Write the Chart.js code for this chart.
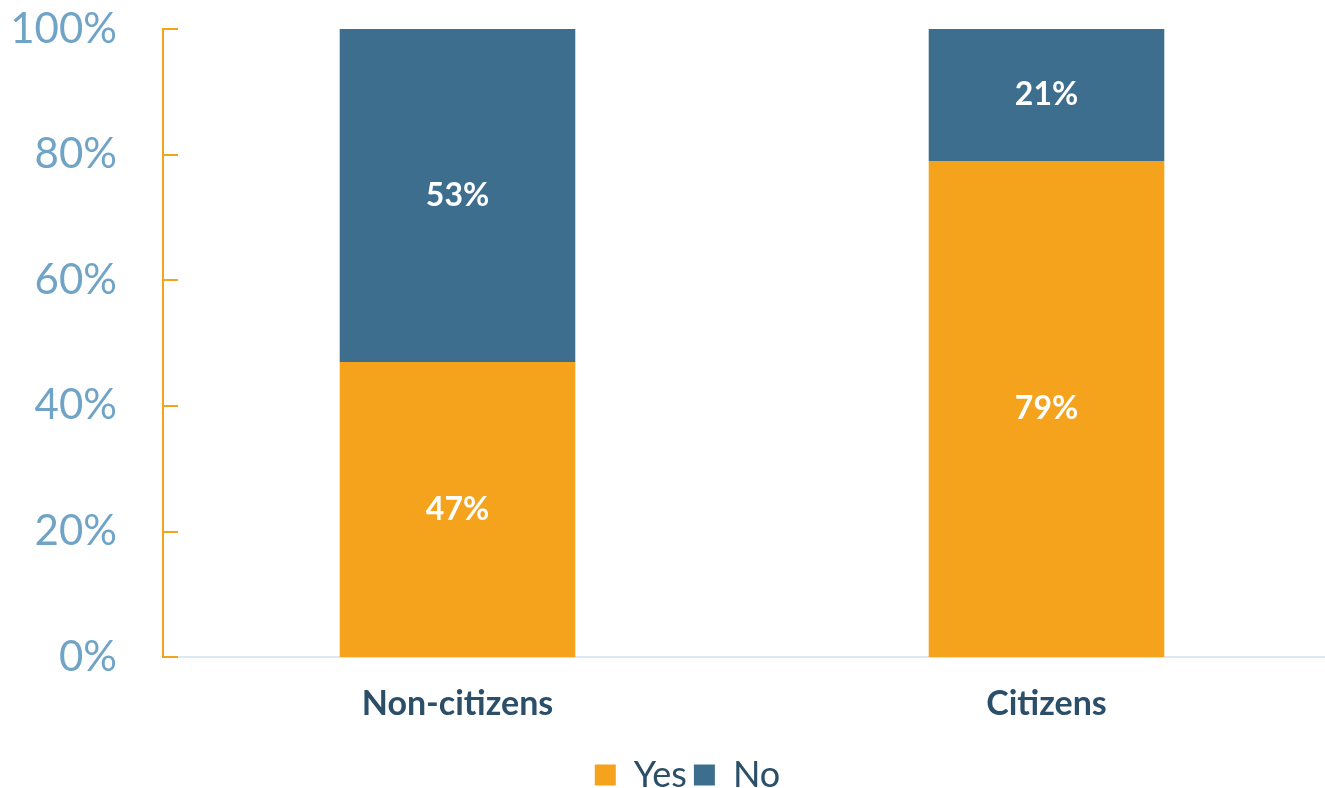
<!DOCTYPE html>
<html>
<head>
<meta charset="utf-8">
<script src="https://cdn.jsdelivr.net/npm/chart.js@4"></script>
<style>
html,body{margin:0;padding:0;background:#fff;overflow:hidden;}
#wrap{width:1341px;height:788px;position:relative;}
</style>
</head>
<body>
<div id="wrap"><canvas id="grafCiudadania"></canvas></div>
<script>
const categorias = ["Non-citizens", "Citizens"];
const valoresSi = [47, 79];
const valoresNo = [53, 21];
const ticksY = [0, 20, 40, 60, 80, 100];

const naranja = "#F5A21D";
const azul = "#3D6E8E";
const textoOscuro = "#2B4E69";

// small tick marks pointing into the plot from the y axis
const marcasEje = {
  id: "marcasEje",
  afterDraw(chart){
    const ctx = chart.ctx;
    const y = chart.scales.y;
    ctx.save();
    ctx.strokeStyle = naranja;
    ctx.lineWidth = 2;
    ticksY.forEach(v => {
      const py = Math.round(y.getPixelForValue(v));
      ctx.beginPath();
      ctx.moveTo(y.right, py);
      ctx.lineTo(y.right + 15, py);
      ctx.stroke();
    });
    ctx.restore();
  }
};

// percentage labels in the middle of each segment
const etiquetas = {
  id: "etiquetas",
  afterDatasetsDraw(chart){
    const ctx = chart.ctx;
    ctx.save();
    ctx.fillStyle = "#ffffff";
    ctx.font = "bold 32px Lato";
    ctx.textAlign = "center";
    ctx.textBaseline = "middle";
    chart.data.datasets.forEach((ds, i) => {
      chart.getDatasetMeta(i).data.forEach((bar, j) => {
        const mid = (bar.y + bar.base) / 2;
        ctx.fillText(ds.data[j] + "%", bar.x, mid);
      });
    });
    ctx.restore();
  }
};

// nudge the legend a little to the right
const moverLeyenda = {
  id: "moverLeyenda",
  afterLayout(chart){
    if (chart.legend) chart.legend.left += 34;
  }
};

new Chart(document.getElementById("grafCiudadania"), {
  type: "bar",
  data: {
    labels: categorias,
    datasets: [
      {label: "Yes", data: valoresSi, backgroundColor: naranja, barPercentage: 0.4, categoryPercentage: 1},
      {label: "No", data: valoresNo, backgroundColor: azul, barPercentage: 0.4, categoryPercentage: 1}
    ]
  },
  options: {
    responsive: true,
    maintainAspectRatio: false,
    animation: false,
    layout: {padding: {top: 29, left: 0, right: 0, bottom: -15}},
    plugins: {
      tooltip: {enabled: false},
      legend: {
        position: "bottom",
        labels: {
          boxWidth: 21,
          boxHeight: 21,
          padding: 7,
          color: textoOscuro,
          font: {family: "Lato", size: 36}
        }
      }
    },
    scales: {
      x: {
        stacked: true,
        grid: {display: false, drawTicks: false},
        border: {color: "#DCE8F2", width: 2},
        ticks: {color: textoOscuro, font: {family: "Lato", size: 34, weight: "bold"}, padding: 26}
      },
      y: {
        stacked: true,
        min: 0,
        max: 100,
        afterBuildTicks: s => { s.ticks = ticksY.map(v => ({value: v})); },
        afterFit: s => { s.width = 163; s.paddingTop = 0; s.paddingBottom = 0; },
        grid: {display: false, drawTicks: false},
        border: {color: naranja, width: 2},
        ticks: {
          color: "#70A4C7",
          font: {family: "Lato", size: 42},
          padding: 46,
          callback: v => v + "%"
        }
      }
    }
  },
  plugins: [marcasEje, etiquetas, moverLeyenda]
});
</script>
</body>
</html>
